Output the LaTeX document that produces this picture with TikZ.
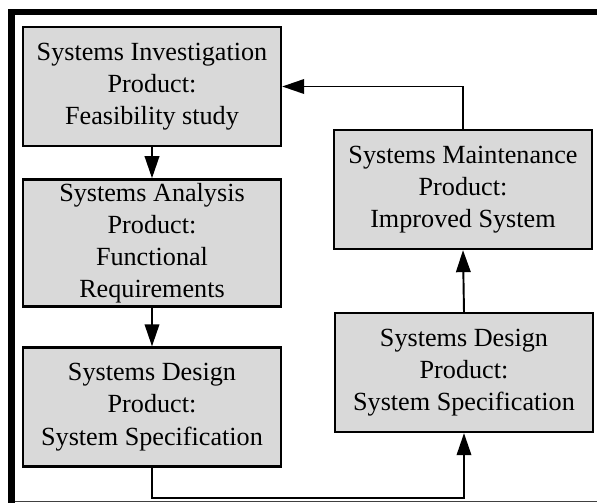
\documentclass[tikz,border=0pt]{standalone}
\usepackage{fontspec}
\setmainfont{Liberation Serif}
\usepackage{tikz}
\usetikzlibrary{arrows.meta, positioning}

\begin{document}
\begin{tikzpicture}[
    font=\fontsize{14.9}{18.3}\selectfont,
    >={Triangle[length=0.44cm, width=0.29cm]},
    % Node styles
    phasebox/.style={draw, fill=gray!30, align=center, minimum width=5.16cm, minimum height=2.38cm, inner sep=2pt, line width=1.3pt},
    arrow/.style={->, line width=1.1pt, color=black},
    framebar/.style={line width=0.13cm, color=black}
]

\useasboundingbox (0,0) rectangle (11.94,-10.06);

% ========== FRAME ==========
\coordinate (fbl) at (0.23,-10.05);
\coordinate (ftl) at (0.23,-0.24);
\coordinate (ftr) at (11.94,-0.24);
\draw[framebar] (fbl) -- (ftl) -- (ftr);
\draw[line width=0.6pt, color=black!75] (0.3,-10.03) -- (11.94,-10.03);

% ========== LEFT COLUMN ==========
\node[phasebox] (sinv) at (3.04, -1.73) {Systems Investigation\\Product:\\Feasibility study};
\node[phasebox] (sana) at (3.04, -4.86) {Systems Analysis\\Product:\\Functional\\Requirements};
\node[phasebox] (sdesL) at (3.04, -8.14) {Systems Design\\Product:\\System Specification};

% ========== RIGHT COLUMN ==========
\node[phasebox] (smaint) at (9.26, -3.79) {Systems Maintenance\\Product:\\Improved System};
\node[phasebox] (sdesR) at (9.28, -7.45) {Systems Design\\Product:\\System Specification};

% ========== ARROWS ==========
\draw[arrow] (sinv.south) -- (sana.north);
\draw[arrow] (sana.south) -- (sdesL.north);
\draw[arrow] (sdesL.south) -- ++(0,-0.6) -| (sdesR.south);
\draw[arrow] (sdesR.north) -- (smaint.south);
\draw[arrow] (smaint.north) |- (sinv.east);

\end{tikzpicture}
\end{document}
